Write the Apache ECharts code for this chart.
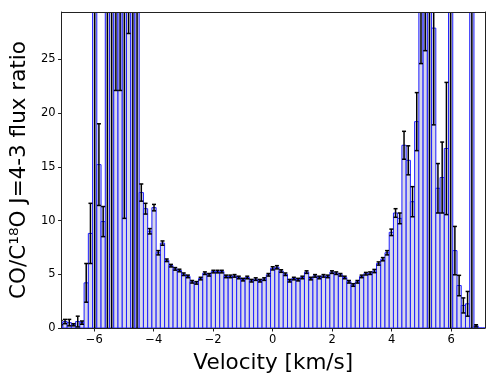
<!DOCTYPE html>
<html>
<head>
<meta charset="utf-8">
<script src="https://cdn.jsdelivr.net/npm/echarts@6/dist/echarts.min.js"></script>
<style>
  html, body { margin: 0; background: #fff; }
  #chart { width: 498px; height: 382px; }
</style>
</head>
<body>
<div id="chart"></div>
<script>
// channel grid (km/s)
const channelWidth = 0.1425;
const firstChannel = -7.125;

// flux ratio per channel (tall ones run past the top)
const ratio = [
  0.5, 0.6, 0.5, 0.3, 0.6, 0.5, 4.2, 8.8, 38, 15.2,
  9.9, 42, 36, 34, 31, 37, 33, 45, 40, 12.6,
  11.1, 9.0, 11.2, 7.0, 7.9, 6.3, 5.8, 5.5, 5.35, 5.0,
  4.8, 4.3, 4.2, 4.6, 5.1, 4.95, 5.25, 5.25, 5.25, 4.8,
  4.8, 4.85, 4.7, 4.5, 4.7, 4.4, 4.55, 4.4, 4.55, 4.95,
  5.55, 5.65, 5.3, 5.0, 4.4, 4.6, 4.5, 4.7, 5.2, 4.6,
  4.85, 4.7, 4.85, 4.8, 5.2, 5.1, 4.95, 4.7, 4.3, 4.0,
  4.3, 4.8, 5.05, 5.1, 5.3, 6.0, 6.4, 7.0, 8.9, 10.7,
  10.2, 17.0, 15.6, 11.75, 19.2, 32, 34, 40, 27.9, 13.0,
  14.0, 16.7, 41, 7.2, 3.95, 2.1, 2.25, 39, 0.2, 0,
  0
];

// 1-sigma errors
const ratioErr = [
  0.2, 0.2, 0.3, 0.1, 0.5, 0.15, 1.8, 2.8, 40, 3.8,
  1.4, 44, 38, 11.9, 8.9, 26.8, 5.6, 47, 42, 0.8,
  0.5, 0.25, 0.3, 0.2, 0.2, 0.12, 0.12, 0.12, 0.12, 0.12,
  0.12, 0.12, 0.12, 0.12, 0.12, 0.12, 0.12, 0.12, 0.12, 0.12,
  0.12, 0.12, 0.12, 0.12, 0.12, 0.12, 0.12, 0.12, 0.12, 0.12,
  0.15, 0.15, 0.12, 0.12, 0.12, 0.12, 0.12, 0.12, 0.12, 0.12,
  0.12, 0.12, 0.12, 0.12, 0.12, 0.12, 0.12, 0.12, 0.12, 0.12,
  0.12, 0.12, 0.12, 0.12, 0.15, 0.15, 0.15, 0.2, 0.3, 0.4,
  0.5, 1.3, 1.35, 1.4, 2.7, 7.4, 8.2, 42, 9.0, 2.3,
  3.3, 6.15, 43, 2.25, 0.95, 0.7, 1.15, 41, 0.1, 0,
  0
];

const xTicks = [-6, -4, -2, 0, 2, 4, 6];
const yTicks = [0, 5, 10, 15, 20, 25];

const velocity = ratio.map((_, i) => +(firstChannel + i * channelWidth).toFixed(4));
const barData = velocity.map((v, i) => [v, ratio[i], ratioErr[i]]);

const chart = echarts.init(document.getElementById('chart'));

function renderBar(params, api) {
  const v = api.value(0);
  const r = api.value(1);
  const p0 = api.coord([v - channelWidth / 2, r]);
  const p1 = api.coord([v + channelWidth / 2, 0]);
  return {
    type: 'rect',
    shape: { x: p0[0], y: p0[1], width: p1[0] - p0[0], height: p1[1] - p0[1] },
    style: { fill: '#d9d9e9', stroke: '#1f1fff', lineWidth: 1 }
  };
}

function renderErr(params, api) {
  const v = api.value(0);
  const r = api.value(1);
  const e = api.value(2);
  if (!e) return;
  const hi = api.coord([v, r + e]);
  const lo = api.coord([v, r - e]);
  const cap = 2;
  const style = { stroke: '#000', lineWidth: 1.5 };
  return {
    type: 'group',
    children: [
      { type: 'line', shape: { x1: hi[0], y1: hi[1], x2: lo[0], y2: lo[1] }, style: style },
      { type: 'line', shape: { x1: hi[0] - cap, y1: hi[1], x2: hi[0] + cap, y2: hi[1] }, style: style },
      { type: 'line', shape: { x1: lo[0] - cap, y1: lo[1], x2: lo[0] + cap, y2: lo[1] }, style: style }
    ]
  };
}

const font = 'DejaVu Sans';
const minus = s => String(s).replace('-', '\u2212');

chart.setOption({
  animation: false,
  grid: { left: 61, right: 13, top: 12, bottom: 54 },
  xAxis: [{
    type: 'value',
    min: -7.1,
    max: 7.14,
    z: 10,
    name: 'Velocity [km/s]',
    nameLocation: 'middle',
    nameGap: 24,
    nameTextStyle: { fontFamily: font, fontSize: 21.5, color: '#000' },
    axisLine: { show: true, onZero: false, lineStyle: { color: '#222', width: 1 } },
    axisTick: { show: true, length: 3.5, customValues: xTicks, lineStyle: { color: '#222' } },
    axisLabel: { customValues: xTicks, margin: 6, fontFamily: font, fontSize: 11.5, color: '#000', formatter: minus },
    splitLine: { show: false }
  }, {
    type: 'value',
    position: 'top',
    min: -7.1,
    max: 7.14,
    z: 10,
    axisLine: { show: true, onZero: false, lineStyle: { color: '#222', width: 1 } },
    axisTick: { show: false },
    axisLabel: { show: false },
    splitLine: { show: false }
  }],
  yAxis: [{
    type: 'value',
    min: 0,
    max: 29.4,
    z: 10,
    name: 'CO/C\u00B9\u2078O J=4-3 flux ratio',
    nameLocation: 'middle',
    nameGap: 24,
    nameRotate: 90,
    nameTextStyle: { fontFamily: font, fontSize: 21.5, color: '#000' },
    axisLine: { show: true, onZero: false, lineStyle: { color: '#222', width: 1 } },
    axisTick: { show: true, length: 3.5, customValues: yTicks, lineStyle: { color: '#222' } },
    axisLabel: { customValues: yTicks, margin: 6, fontFamily: font, fontSize: 11.5, color: '#000' },
    splitLine: { show: false }
  }, {
    type: 'value',
    position: 'right',
    min: 0,
    max: 29.4,
    z: 10,
    axisLine: { show: true, onZero: false, lineStyle: { color: '#222', width: 1 } },
    axisTick: { show: false },
    axisLabel: { show: false },
    splitLine: { show: false }
  }],
  series: [{
    type: 'custom',
    clip: true,
    renderItem: renderBar,
    encode: { x: 0, y: 1 },
    data: barData,
    z: 2
  }, {
    type: 'custom',
    clip: true,
    renderItem: renderErr,
    encode: { x: 0, y: 1 },
    data: barData,
    z: 3
  }]
});
</script>
</body>
</html>
